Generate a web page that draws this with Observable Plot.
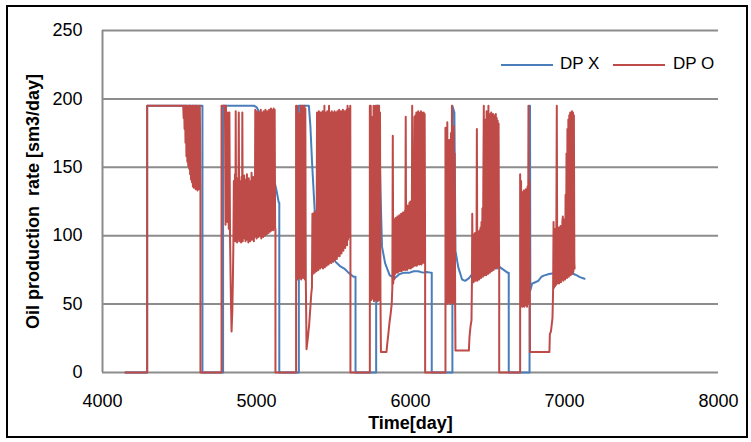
<!DOCTYPE html>
<html><head><meta charset="utf-8">
<script src="https://cdn.jsdelivr.net/npm/d3@7"></script>
<script src="https://cdn.jsdelivr.net/npm/@observablehq/plot@0.6"></script>
<style>
body{margin:0;background:#fff;font-family:"Liberation Sans",Arial,sans-serif;}
#wrap{position:relative;width:751px;height:442px;overflow:hidden;}
#frame{position:absolute;left:6px;top:5px;width:742px;height:433px;border:2px solid #000;box-sizing:border-box;pointer-events:none;}
.lg{position:absolute;height:2px;top:64px;}
.lt{position:absolute;top:54px;font-size:17px;line-height:20px;color:#000;}
</style></head>
<body><div id="wrap"><div id="frame"></div></div>
<script>
const xTicks = [4000, 5000, 6000, 7000, 8000];
const yTicks = [0, 50, 100, 150, 200, 250];
const seriesNames = ["DP X", "DP O"];
const seriesColors = ["#4A7EBB", "#BE4B48"];

// DP X (blue) : [day, rate]
const dpX = [[4149,0],[4290,0],[4290,195],[4649,195],[4649,0],[4783,0],[4783,195],[4983,195],[5000,194],[5015,191],[5040,180],[5070,165],[5100,148],[5130,133],[5145,124],[5148,124],[5148,0],[5275,0],[5275,195],[5340,195],[5350,180],[5361,153],[5379,116],[5400,102],[5430,94],[5460,88],[5490,84],[5513,81],[5540,78],[5570,76],[5597,73],[5630,70],[5643,70],[5643,0],[5777,0],[5777,195],[5795,195],[5805,133],[5815,92],[5835,80],[5865,71],[5897,69],[5930,72],[5960,73],[5995,73],[6020,74],[6050,74],[6080,73],[6105,73.5],[6130,73],[6138,73],[6138,0],[6272,0],[6272,195],[6285,190],[6292,89],[6310,77],[6335,68],[6355,67],[6380,69],[6400,72],[6450,75],[6490,77],[6530,77],[6560,76],[6580,77],[6605,75],[6630,73],[6638,73],[6638,0],[6773,0],[6773,195],[6776,195],[6778,60],[6790,65],[6810,66],[6830,67],[6850,70],[6870,71],[6900,72],[6930,72.6],[6960,73],[6990,73.3],[7020,74.6],[7040,75.8],[7060,72],[7080,71],[7100,69.7],[7130,68.5]];

// DP O (red), cycle by cycle : [day, rate]
const dpO_c1 = [[4149,0],[4290,0],[4290,195],[4524,195],[4527,186],[4530,195],[4533,178],[4536,195],[4539,168],[4542,195],[4545,158],[4548,195],[4551,154],[4554,194],[4557,151],[4560,195],[4563,149],[4566,195],[4569,145],[4572,195],[4575,141],[4578,193],[4581,139],[4584,195],[4587,136],[4590,195],[4593,135],[4596,194],[4599,137],[4602,195],[4605,134],[4608,195],[4611,136],[4614,192],[4617,133],[4620,195],[4623,135],[4626,194],[4629,134],[4632,195],[4636,134],[4636,0]];
const dpO_c2 = [[4773,0],[4773,195],[4795,195],[4799,108],[4802,195],[4806,115],[4809,155],[4812,110],[4815,190],[4820,105],[4824,190],[4828,100],[4833,60],[4838,30],[4843,45],[4847,70],[4850,95],[4853,140],[4856,98],[4860,145],[4863,96],[4865,191],[4868,97],[4871,138],[4874,95],[4877,142],[4880,98],[4883,137],[4885,190],[4888,96],[4891,140],[4894,99],[4897,135],[4900,95],[4903,143],[4906,97],[4908,190],[4911,96],[4914,139],[4917,100],[4920,144],[4923,98],[4926,136],[4929,96],[4932,141],[4935,99],[4938,145],[4941,97],[4944,138],[4947,95],[4950,142],[4953,98],[4956,134],[4959,96],[4962,140],[4965,100],[4968,146],[4971,97],[4974,139],[4977,99],[4980,143],[4983,96],[4986,138],[4989,99],[4992,192],[4995,100],[4998,188],[5001,98],[5004,191],[5007,101],[5010,187],[5013,99],[5016,190],[5019,102],[5022,189],[5025,100],[5028,192],[5031,98],[5034,188],[5037,101],[5040,190],[5043,99],[5046,191],[5049,102],[5052,189],[5055,100],[5058,192],[5061,103],[5064,190],[5067,101],[5070,191],[5073,104],[5076,189],[5079,102],[5082,192],[5085,105],[5088,190],[5091,103],[5094,193],[5097,104],[5100,191],[5103,106],[5106,192],[5109,104],[5112,193],[5115,107],[5118,192],[5121,105],[5123,105],[5123,0]];
const dpO_c3 = [[5257,0],[5257,195],[5260,70],[5263,195],[5266,68],[5269,190],[5272,72],[5275,185],[5278,69],[5281,189],[5284,71],[5287,195],[5290,68],[5293,192],[5296,70],[5299,195],[5302,69],[5305,190],[5308,71],[5311,195],[5314,68],[5317,193],[5320,70],[5325,17],[5330,22],[5336,28],[5342,35],[5350,48],[5356,58],[5360,62],[5363,116],[5366,72],[5369,114],[5372,74],[5375,117],[5378,73],[5381,115],[5384,75],[5387,118],[5390,74],[5393,190],[5396,76],[5399,188],[5402,75],[5405,191],[5408,77],[5411,189],[5414,76],[5417,190],[5420,78],[5423,188],[5426,77],[5429,191],[5432,76],[5435,189],[5438,78],[5441,195],[5444,77],[5447,190],[5450,79],[5453,188],[5456,78],[5459,191],[5462,80],[5465,189],[5468,79],[5471,195],[5474,80],[5477,190],[5480,81],[5483,188],[5486,80],[5489,191],[5492,82],[5495,189],[5498,81],[5501,190],[5504,83],[5507,191],[5510,82],[5513,189],[5516,84],[5519,190],[5522,83],[5525,191],[5528,85],[5531,189],[5534,86],[5537,192],[5540,85],[5543,190],[5546,88],[5549,191],[5552,87],[5555,189],[5558,90],[5561,192],[5564,89],[5567,190],[5570,92],[5573,191],[5576,91],[5579,190],[5582,94],[5585,192],[5588,93],[5591,195],[5594,97],[5597,191],[5600,99],[5603,193],[5606,101],[5609,195],[5610,100],[5610,0]];
const dpO_c4 = [[5736,0],[5736,195],[5739,55],[5742,195],[5745,53],[5748,177],[5751,56],[5754,187],[5757,54],[5760,195],[5763,52],[5766,192],[5769,55],[5772,195],[5775,53],[5778,190],[5781,54],[5784,195],[5787,52],[5790,193],[5793,55],[5796,195],[5799,53],[5802,190],[5805,54],[5808,15],[5844,15],[5849,21],[5856,28],[5863,36],[5870,42],[5878,50],[5882,62],[5885,173],[5888,65],[5891,112],[5894,68],[5897,110],[5900,72],[5903,113],[5906,73],[5909,111],[5912,74],[5915,114],[5918,73],[5921,112],[5924,75],[5927,115],[5930,74],[5933,113],[5936,75],[5939,116],[5942,74],[5945,114],[5948,76],[5951,117],[5954,75],[5957,115],[5960,76],[5963,118],[5966,75],[5969,187],[5972,76],[5975,120],[5978,75],[5981,122],[5984,77],[5987,121],[5990,76],[5993,124],[5996,77],[5999,125],[6002,76],[6005,123],[6008,78],[6011,195],[6014,77],[6017,126],[6020,78],[6023,128],[6026,187],[6029,78],[6032,188],[6035,79],[6038,190],[6041,78],[6044,189],[6047,79],[6050,191],[6053,80],[6056,190],[6059,79],[6062,189],[6065,80],[6068,191],[6071,79],[6074,190],[6077,80],[6080,188],[6083,81],[6086,190],[6089,80],[6092,189],[6095,80],[6095,0]];
const dpO_c5 = [[6227,0],[6227,179],[6230,52],[6233,178],[6236,50],[6239,183],[6242,53],[6245,160],[6248,51],[6251,170],[6254,52],[6257,155],[6260,50],[6263,175],[6266,53],[6269,195],[6272,51],[6275,165],[6278,52],[6281,180],[6284,50],[6287,160],[6290,52],[6292,16],[6379,16],[6383,26],[6390,34],[6396,38],[6399,66],[6401,116],[6404,67],[6407,101],[6410,66],[6413,99],[6416,68],[6419,102],[6422,67],[6425,100],[6428,68],[6431,178],[6434,67],[6437,103],[6440,69],[6443,101],[6446,68],[6449,104],[6452,70],[6455,106],[6458,69],[6461,110],[6464,71],[6467,120],[6470,70],[6473,140],[6476,195],[6479,71],[6482,160],[6485,72],[6488,185],[6491,71],[6494,191],[6497,73],[6500,188],[6503,72],[6506,195],[6509,74],[6512,189],[6515,73],[6518,188],[6521,75],[6524,190],[6527,74],[6530,187],[6533,76],[6536,189],[6539,75],[6542,188],[6545,77],[6548,187],[6551,76],[6554,189],[6557,78],[6560,186],[6563,77],[6566,184],[6569,78],[6572,182],[6575,79],[6576,79],[6576,0]];
const dpO_c6 = [[6712,0],[6712,145],[6715,48],[6718,140],[6721,49],[6724,132],[6727,48],[6730,130],[6733,50],[6736,133],[6739,48],[6742,131],[6745,49],[6748,134],[6751,50],[6754,133],[6757,48],[6760,136],[6763,50],[6766,195],[6769,52],[6772,140],[6775,55],[6776,15],[6902,15],[6905,28],[6912,30],[6918,36],[6922,40],[6926,60],[6929,110],[6932,62],[6935,105],[6938,63],[6941,102],[6944,64],[6947,104],[6950,195],[6953,65],[6956,103],[6959,66],[6962,106],[6965,65],[6968,104],[6971,67],[6974,107],[6977,66],[6980,105],[6983,68],[6986,110],[6989,114],[6992,67],[6995,108],[6998,69],[7001,112],[7004,68],[7007,130],[7010,70],[7013,160],[7016,69],[7019,178],[7022,71],[7025,185],[7028,70],[7031,188],[7034,72],[7037,190],[7040,71],[7043,189],[7046,73],[7049,191],[7052,72],[7055,190],[7058,74],[7061,188],[7064,80],[7066,76]];

const dpO = [].concat(dpO_c1, dpO_c2, dpO_c3, dpO_c4, dpO_c5, dpO_c6);

const font = "'Liberation Sans', Arial, sans-serif";
const chart = Plot.plot({
  width: 751, height: 442,
  marginLeft: 102, marginRight: 33, marginTop: 30, marginBottom: 70,
  style: {fontFamily: font, fontSize: "18px", color: "#000", background: "transparent", overflow: "visible"},
  x: {domain: [4000, 8000], ticks: xTicks, tickFormat: d => String(d)},
  y: {domain: [0, 250], ticks: yTicks},
  marks: [
    Plot.ruleY(yTicks, {stroke: "#8c8c8c", strokeWidth: 2}),
    Plot.ruleX([xTicks[0]], {stroke: "#8c8c8c", strokeWidth: 2}),
    Plot.axisX({ticks: xTicks, tickSize: 0, tickPadding: 22, label: null, tickFormat: d => String(d), fontSize: 18}),
    Plot.axisY({ticks: yTicks, tickSize: 0, tickPadding: 20, label: null, fontSize: 18}),
    Plot.line(dpX, {x: d => d[0], y: d => d[1], stroke: seriesColors[0], strokeWidth: 2}),
    Plot.line(dpO, {x: d => d[0], y: d => d[1], stroke: seriesColors[1], strokeWidth: 2}),
    Plot.text(["Oil production  rate [sm3/day]"], {frameAnchor: "left", dx: -69, rotate: -90, textAnchor: "middle", lineAnchor: "middle", text: d => d, fontWeight: "bold", fontSize: 18, fill: "#000"}),
    Plot.text(["Time[day]"], {frameAnchor: "bottom", dy: 51, textAnchor: "middle", lineAnchor: "middle", text: d => d, fontWeight: "bold", fontSize: 18, fill: "#000"})
  ]
});
const wrap = document.getElementById("wrap");
wrap.insertBefore(chart, wrap.firstChild);

// legend
const lg = [[501, 553, 560], [613, 665, 673]];
seriesNames.forEach((n, i) => {
  const l = document.createElement("div");
  l.className = "lg"; l.style.left = lg[i][0] + "px"; l.style.width = (lg[i][1] - lg[i][0]) + "px";
  l.style.background = seriesColors[i];
  wrap.appendChild(l);
  const t = document.createElement("div");
  t.className = "lt"; t.style.left = lg[i][2] + "px"; t.textContent = n;
  wrap.appendChild(t);
});
</script></body></html>
